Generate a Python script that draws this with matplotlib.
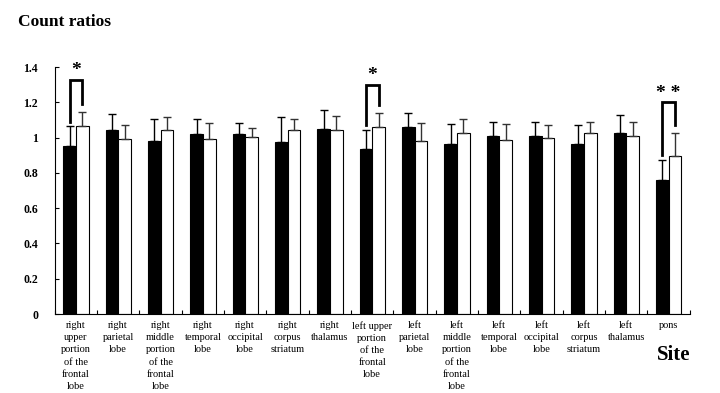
import numpy as np
import matplotlib
matplotlib.use("Agg")
from matplotlib import pyplot as plt

plt.rcParams['font.family'] = ['Liberation Serif', 'DejaVu Serif']

# brain sites
sites = ["right\nupper\nportion\nof the\nfrontal\nlobe", "right\nparietal\nlobe",
         "right\nmiddle\nportion\nof the\nfrontal\nlobe", "right\ntemporal\nlobe",
         "right\noccipital\nlobe", "right\ncorpus\nstriatum", "right\nthalamus",
         "left upper\nportion\nof the\nfrontal\nlobe", "left\nparietal\nlobe",
         "left\nmiddle\nportion\nof the\nfrontal\nlobe", "left\ntemporal\nlobe",
         "left\noccipital\nlobe", "left\ncorpus\nstriatum", "left\nthalamus", "pons"]

# count ratios (black = group 1, white = group 2) and SD
black = [0.954, 1.044, 0.984, 1.023, 1.019, 0.975, 1.048, 0.937, 1.061, 0.963, 1.009, 1.009, 0.966, 1.025, 0.760]
black_sd = [0.111, 0.088, 0.121, 0.082, 0.067, 0.144, 0.111, 0.109, 0.077, 0.112, 0.079, 0.079, 0.107, 0.105, 0.116]
white = [1.069, 0.992, 1.044, 0.994, 1.006, 1.046, 1.046, 1.059, 0.984, 1.025, 0.986, 0.998, 1.027, 1.011, 0.899]
white_sd = [0.075, 0.079, 0.075, 0.092, 0.049, 0.061, 0.078, 0.079, 0.102, 0.082, 0.091, 0.073, 0.063, 0.079, 0.126]

# significance brackets: site index, label, bracket top
sig_idx = [0, 7, 14]
sig_lab = ["*", "*", "* *"]
sig_top = [1.33, 1.30, 1.20]

fig = plt.figure(figsize=(7.2, 3.93), dpi=100)
ax = fig.add_axes([0.076, 0.201, 0.882, 0.628])

x = np.arange(len(sites)) + 0.5
w = 0.3
n = len(sites)
ax.bar(x - w/2, black, w, color='black', edgecolor='black', linewidth=0.8,
       yerr=[np.zeros(n), black_sd], error_kw=dict(ecolor='black', elinewidth=1, capsize=3, capthick=1))
ax.bar(x + w/2, white, w, color='white', edgecolor='black', linewidth=0.8,
       yerr=[np.zeros(n), white_sd], error_kw=dict(ecolor='#333333', elinewidth=1, capsize=3, capthick=1))

for i, lab, top in zip(sig_idx, sig_lab, sig_top):
    xl, xr = x[i] - w/2, x[i] + w/2
    yl = black[i] + black_sd[i] + 0.025
    yr = white[i] + white_sd[i] + 0.045
    ax.plot([xl, xl, xr, xr], [yl, top, top, yr], color='black', lw=2, solid_joinstyle='miter')
    ax.text(x[i], top + 0.005, lab, ha='center', va='bottom', fontsize=14, fontweight='bold')

ax.set_xlim(0, n)
ax.set_ylim(0, 1.4)
ax.set_yticks(np.arange(0, 1.41, 0.2))
ax.set_yticklabels(['0', '0.2', '0.4', '0.6', '0.8', '1', '1.2', '1.4'], fontweight='bold', fontsize=8.5)
ax.set_xticks(np.arange(0, n + 1))
ax.set_xticklabels([])
ax.tick_params(axis='x', direction='in', length=3)
ax.tick_params(axis='y', direction='in', length=3, pad=12)
ax.spines['top'].set_visible(False)
ax.spines['right'].set_visible(False)

for xi, s in zip(x, sites):
    ax.text(xi, -0.04, s, ha='center', va='top', fontsize=7.5, linespacing=1.45,
            transform=ax.transData)

fig.text(0.025, 0.945, "Count ratios", fontsize=12.5, fontweight='bold', ha='left', va='center')
fig.text(0.913, 0.097, "Site", fontsize=15, fontweight='bold', ha='left', va='center')

fig.savefig("out.png", dpi=100)
